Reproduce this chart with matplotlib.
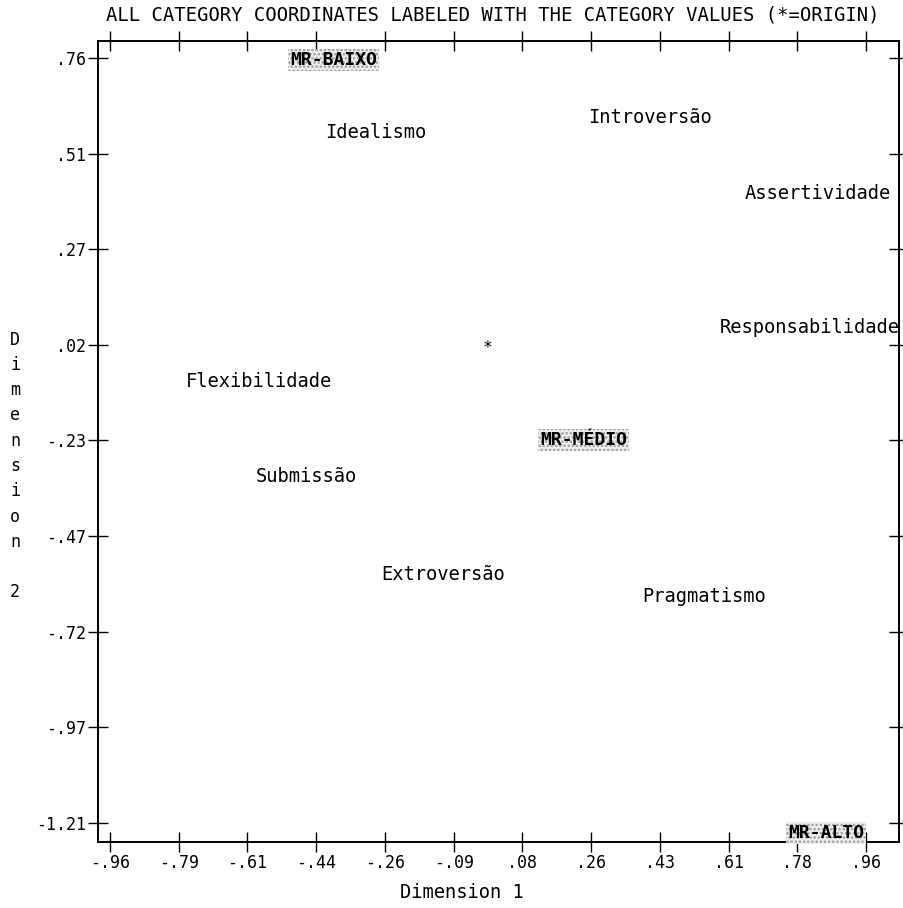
import numpy as np
import matplotlib
matplotlib.use("Agg")
import matplotlib.pyplot as plt

# category coordinates (dimension 1, dimension 2)
labels = ["MR-BAIXO", "Idealismo", "Introversão", "Assertividade",
          "Responsabilidade", "Flexibilidade", "MR-MÉDIO", "Submissão",
          "Extroversão", "Pragmatismo", "MR-ALTO"]
dim1 = [-0.503, -0.414, 0.254, 0.653, 0.589, -0.767, 0.132, -0.589,
        -0.272, 0.391, 0.762]
dim2 = [0.755, 0.567, 0.608, 0.412, 0.065, -0.074, -0.224, -0.319,
        -0.569, -0.628, -1.236]
highlighted = ["MR-BAIXO", "MR-MÉDIO", "MR-ALTO"]

xtick_labels = ["-.96", "-.79", "-.61", "-.44", "-.26", "-.09",
                ".08", ".26", ".43", ".61", ".78", ".96"]
ytick_labels = ["-1.21", "-.97", "-.72", "-.47", "-.23", ".02", ".27", ".51", ".76"]

mono = "DejaVu Sans Mono"
plt.rcParams["hatch.linewidth"] = 1.2

fig = plt.figure(figsize=(9.04, 9.08), dpi=100)
ax = fig.add_axes([98 / 904, 66 / 908, 801 / 904, 801 / 908])

ax.set_xlim(-0.9905, 1.0438)
ax.set_ylim(-1.259, 0.8038)

xt = np.linspace(-0.96, 0.96, len(xtick_labels))
yt = np.linspace(-1.21, 0.76, len(ytick_labels))
ax.set_xticks(xt)
ax.set_xticklabels(xtick_labels, family=mono, fontsize=12)
ax.set_yticks(yt)
ax.set_yticklabels(ytick_labels, family=mono, fontsize=12)
ax.tick_params(direction="inout", length=15, width=1, top=True, right=True,
               labeltop=False, labelright=False, pad=1)
for s in ax.spines.values():
    s.set_linewidth(1.4)

# origin marker
ax.text(0, 0, "*", ha="center", va="baseline", fontsize=12, family=mono)

for name, x, y in zip(labels, dim1, dim2):
    if name in highlighted:
        ax.text(x, y, name, ha="left", va="center", fontsize=13, family=mono,
                fontweight="bold",
                bbox=dict(boxstyle="square,pad=0.12", fc="#eeeeee",
                          ec="#9a9a9a", lw=0, hatch="...."))
    else:
        ax.text(x, y, name, ha="left", va="center", fontsize=13.5, family=mono)

fig.text(493 / 904, 1 - 15 / 908,
         "ALL CATEGORY COORDINATES LABELED WITH THE CATEGORY VALUES (*=ORIGIN)",
         ha="center", va="center", fontsize=13.6, family=mono)

fig.text(462 / 904, 1 - 893 / 908, "Dimension 1", ha="center", va="center",
         fontsize=13.5, family=mono)
fig.text(15 / 904, 1 - 466 / 908, "\n".join("Dimension") + "\n\n2",
         ha="center", va="center", fontsize=12, family=mono, linespacing=1.52)

fig.savefig("out.png", dpi=100)
